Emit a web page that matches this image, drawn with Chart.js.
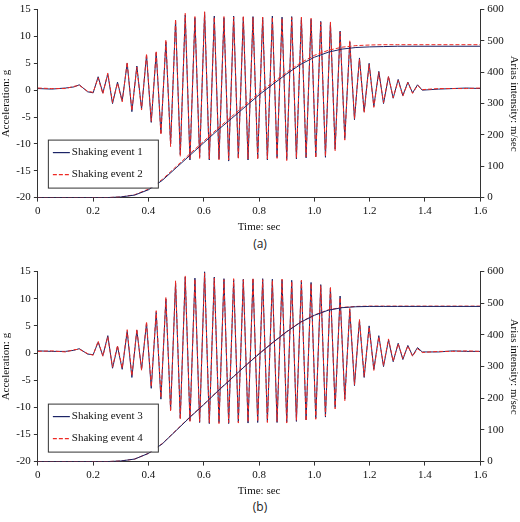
<!DOCTYPE html>
<html><head><meta charset="utf-8">
<script src="https://cdn.jsdelivr.net/npm/chart.js@4"></script>
<style>
body{margin:0;background:#fff;width:520px;height:522px;position:relative;font-family:"Open Sans",sans-serif}
.box{position:absolute;left:0;width:520px;height:240px}
.cap{position:absolute;width:520px;text-align:center;font-size:12px;color:#222}
</style></head><body>
<div class="box" style="top:0"><canvas id="chartA"></canvas></div>
<div class="cap" style="top:235px">(a)</div>
<div class="box" style="top:262px"><canvas id="chartB"></canvas></div>
<div class="cap" style="top:498px">(b)</div>
<script>
// time stamps (s) for acceleration records
const time = [0,0.05,0.10,0.13,0.15,0.18,
  0.200,0.218,0.235,0.253,0.270,0.288,0.305,0.323,0.340,0.358,0.375,0.393,0.410,0.428,0.445,0.463,0.480,0.498,0.515,0.533,0.550,0.568,0.585,0.603,0.620,0.638,0.655,0.673,0.690,0.708,0.725,0.743,0.760,0.778,0.795,0.813,0.830,0.848,0.865,0.883,0.900,0.918,0.935,0.953,0.970,0.988,1.005,1.023,1.040,1.058,1.075,1.093,1.110,1.128,1.145,1.163,1.180,1.198,1.215,1.233,1.250,1.268,1.285,1.303,1.320,1.338,1.355,1.373,1.390,
  1.45,1.50,1.55,1.60];
const acc1 = [0.3,0.2,0.4,0.6,1.0,-0.3,
  -0.5,2.5,-0.5,3,-2.5,1.5,-2,5,-4,4.5,-3.5,6.5,-6,7,-8,9,-10,13,-12,14,-13,13.5,-12.5,14.5,-13,13.8,-12.8,13.5,-13.2,13.8,-12.6,13.6,-13,13.7,-12.7,13.5,-13,13.8,-12.5,13.6,-12.9,13.7,-12.8,13.4,-12.6,13.2,-12.4,12.8,-12.5,12.5,-11,11,-9,9,-5.5,6,-4,5,-3,3.5,-2.5,2.5,-1.5,2,-1,1.5,-0.5,1,0,
  0.2,0.3,0.4,0.3];
const acc2 = [0.4,0.3,0.3,0.7,0.9,-0.2,
  -0.4,2.3,-0.7,3.2,-2.3,1.3,-2.2,5.2,-3.8,4.3,-3.7,6.8,-5.8,7.3,-8.3,9.4,-10.5,13.2,-12.3,14.3,-12.8,13.7,-12.7,14.6,-12.8,13.6,-13,13.7,-13,13.6,-12.8,13.8,-12.8,13.5,-12.9,13.6,-12.8,13.6,-12.7,13.4,-13.1,13.5,-12.6,13.6,-12.4,13.4,-12.6,12.6,-12.3,12.7,-11.3,10.8,-9.3,9.2,-5.3,5.8,-4.2,4.8,-3.2,3.3,-2.3,2.6,-1.4,1.8,-1.1,1.4,-0.6,0.9,0.1,
  0.3,0.3,0.3,0.4];
const acc3 = [0.4,0.3,0.3,0.5,0.8,-0.2,
  -0.3,2,-0.5,3.2,-2.8,1.2,-3,4,-4.5,4.2,-3,5.5,-6.5,7.5,-8.5,10,-10.5,13,-12,14,-12.5,13.8,-12.8,15,-13,14,-12.8,13.7,-13,13.5,-12.7,13.6,-12.9,13.6,-12.8,13.7,-12.6,13.6,-12.8,13.5,-12.7,13.4,-12.6,13.3,-12.3,13,-12,12.6,-11.8,12,-10,10.5,-8.5,8,-6,6,-4.5,5,-3,3.2,-2.5,2.4,-1.6,1.8,-1.2,1.4,-0.5,1,0.2,
  0.2,0.4,0.3,0.3];
const acc4 = [0.3,0.4,0.2,0.6,0.7,-0.1,
  -0.4,2.2,-0.6,3,-2.6,1.4,-2.8,4.3,-4.2,4.4,-3.2,5.8,-6.2,7.8,-8.2,10.3,-10.8,13.3,-12.2,14.2,-12.7,13.6,-12.6,14.7,-12.8,13.8,-13,13.5,-12.8,13.7,-12.9,13.5,-12.7,13.8,-12.6,13.5,-12.8,13.4,-12.6,13.6,-12.9,13.2,-12.4,13.4,-12.5,12.8,-12.2,12.4,-11.6,12.2,-10.3,10.2,-8.8,8.2,-5.8,6.2,-4.3,4.8,-3.2,3,-2.3,2.6,-1.5,1.7,-1,1.3,-0.6,0.8,0.1,
  0.3,0.3,0.4,0.3];
// Arias intensity (m/sec)
const ariasTime = [0,0.25,0.30,0.35,0.40,0.45,0.50,0.55,0.60,0.65,0.70,0.75,0.80,0.85,0.90,0.95,1.00,1.05,1.10,1.15,1.20,1.25,1.30,1.60];
const arias1 = [0,0,2,8,25,55,95,135,175,215,252,290,328,362,395,425,448,464,474,479,481,482,483,483];
const arias2 = [0,0,2,9,27,58,99,140,180,220,258,296,334,368,400,430,454,470,480,485,487,488,488,488];
const arias3 = [0,0,2,8,26,56,98,140,180,222,262,302,340,376,410,440,462,478,486,489,490,490,490,490];
const arias4 = [0,0,2,8,26,57,99,141,181,223,263,303,341,377,411,441,463,479,487,490,491,491,491,491];

const NAVY = '#1c2466', RED = '#ee2a24';
const pts = (xs, ys) => xs.map((x, i) => ({x, y: ys[i]}));

const boxLegend = {
  id: 'boxLegend',
  afterDraw(chart) {
    const {ctx, chartArea: a} = chart;
    const names = chart.options.legendNames;
    const x = a.left + 10, y = a.bottom - 58, w = 110, h = 48;
    ctx.save();
    ctx.fillStyle = '#fff';
    ctx.fillRect(x, y, w, h);
    ctx.strokeStyle = '#333'; ctx.lineWidth = 1;
    ctx.strokeRect(x + 0.5, y + 0.5, w, h);
    ctx.font = '11px "Liberation Serif"'; ctx.fillStyle = '#111'; ctx.textBaseline = 'middle';
    [[NAVY, []], [RED, [4, 2]]].forEach(([c, d], i) => {
      const yy = y + 13 + i * 22;
      ctx.strokeStyle = c; ctx.setLineDash(d); ctx.lineWidth = 1.2;
      ctx.beginPath(); ctx.moveTo(x + 5, yy); ctx.lineTo(x + 22, yy); ctx.stroke();
      ctx.fillText(names[i], x + 24, yy);
    });
    ctx.restore();
  }
};

function makeChart(id, accA, accB, arA, arB, names) {
  const serif = {family: '"Liberation Serif"', size: 11};
  const axisGrid = {drawOnChartArea: false, tickLength: 4, color: '#333'};
  new Chart(document.getElementById(id), {
    type: 'line',
    data: {datasets: [
      {data: pts(time, accA), borderColor: NAVY, borderWidth: 1, pointRadius: 0, yAxisID: 'y', order: 2},
      {data: pts(time, accB), borderColor: RED, borderWidth: 1, borderDash: [4, 2], pointRadius: 0, yAxisID: 'y', order: 1},
      {data: pts(ariasTime, arA), borderColor: NAVY, borderWidth: 1, pointRadius: 0, yAxisID: 'y1', order: 0},
      {data: pts(ariasTime, arB), borderColor: RED, borderWidth: 1, borderDash: [4, 2], pointRadius: 0, yAxisID: 'y1', order: 0}
    ]},
    options: {
      responsive: false, animation: false,
      legendNames: names,
      layout: {padding: {top: 0, right: 0, left: 0}},
      plugins: {legend: {display: false}, tooltip: {enabled: false}},
      scales: {
        x: {type: 'linear', min: 0, max: 1.6,
          ticks: {stepSize: 0.2, font: serif, color: '#111', maxRotation: 0},
          grid: axisGrid, border: {color: '#333'},
          title: {display: true, text: 'Time: sec', font: serif, color: '#111', padding: 0}},
        y: {min: -20, max: 15, ticks: {stepSize: 5, font: serif, color: '#111'},
          grid: axisGrid, border: {color: '#333'},
          title: {display: true, text: 'Acceleration: g', font: serif, color: '#111', padding: 0}},
        y1: {position: 'right', min: 0, max: 600, ticks: {stepSize: 100, font: serif, color: '#111'},
          grid: axisGrid, border: {color: '#333'},
          title: {display: true, text: 'Arias intensity: m/sec', font: serif, color: '#111', padding: 0}}
      }
    },
    plugins: [boxLegend]
  });
}
document.getElementById('chartA').width = 520; document.getElementById('chartA').height = 234;
document.getElementById('chartB').width = 520; document.getElementById('chartB').height = 236;
makeChart('chartA', acc1, acc2, arias1, arias2, ['Shaking event 1', 'Shaking event 2']);
makeChart('chartB', acc3, acc4, arias3, arias4, ['Shaking event 3', 'Shaking event 4']);
</script>
</body></html>
